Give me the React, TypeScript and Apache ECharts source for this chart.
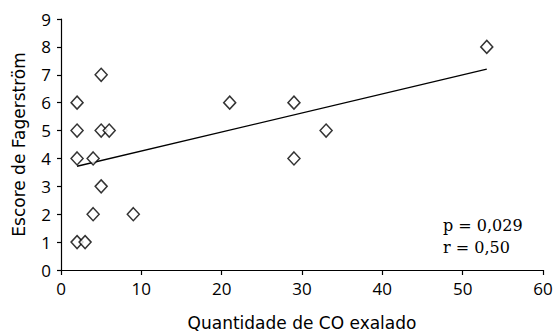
import React, { useEffect, useRef } from "react";
import * as echarts from "echarts";

const coExhaled = [2, 2, 2, 2, 3, 4, 4, 5, 5, 6, 5, 9, 21, 29, 29, 33, 53];
const fagerstrom = [6, 5, 4, 1, 1, 4, 2, 7, 5, 5, 3, 2, 6, 6, 4, 5, 8];
const trendX = [2, 53];
const trendY = [3.72, 7.2];
const xTicks = [0, 10, 20, 30, 40, 50, 60];
const yTicks = [0, 1, 2, 3, 4, 5, 6, 7, 8, 9];
const statsText = ["p = 0,029", "r = 0,50"];

export default function App() {
  const ref = useRef<HTMLDivElement>(null);
  useEffect(() => {
    if (!ref.current) return;
    document.body.style.margin = "0";
    const chart = echarts.init(ref.current, null, { renderer: "svg" });
    const tickFont = "'Open Sans', 'DejaVu Sans', sans-serif";
    const nameFont = "'DejaVu Sans', 'Open Sans', sans-serif";
    chart.setOption({
      animation: false,
      backgroundColor: "#ffffff",
      grid: {
        left: 61,
        right: 10,
        top: 19,
        bottom: 63,
        containLabel: false,
        outerBoundsMode: "none",
      },
      xAxis: {
        type: "value",
        min: xTicks[0],
        max: xTicks[xTicks.length - 1],
        interval: 10,
        name: "Quantidade de CO exalado",
        nameLocation: "middle",
        nameGap: 44,
        nameTextStyle: { color: "#000", fontSize: 17, fontFamily: nameFont },
        axisLine: { show: true, onZero: false, lineStyle: { color: "#000", width: 1.2 } },
        axisTick: { show: true, length: 5, lineStyle: { color: "#000", width: 1.2 } },
        axisLabel: { color: "#000", fontSize: 17, fontFamily: tickFont, margin: 10 },
        splitLine: { show: false },
      },
      yAxis: {
        type: "value",
        min: yTicks[0],
        max: yTicks[yTicks.length - 1],
        interval: 1,
        name: "Escore de Fagerström",
        nameLocation: "middle",
        nameGap: 34,
        nameTextStyle: { color: "#000", fontSize: 17, fontFamily: nameFont },
        axisLine: { show: true, onZero: false, lineStyle: { color: "#000", width: 1.2 } },
        axisTick: { show: true, length: 4, lineStyle: { color: "#000", width: 1.2 } },
        axisLabel: { color: "#000", fontSize: 17, fontFamily: tickFont, margin: 10 },
        splitLine: { show: false },
      },
      series: [
        {
          type: "line",
          data: trendX.map((x, i) => [x, trendY[i]]),
          showSymbol: false,
          symbol: "none",
          lineStyle: { color: "#000", width: 1.3 },
          z: 1,
        },
        {
          type: "scatter",
          data: coExhaled.map((x, i) => [x, fagerstrom[i]]),
          symbol: "diamond",
          symbolSize: [12, 13],
          itemStyle: { color: "#fff", borderColor: "#000", borderWidth: 1.5 },
          z: 2,
        },
      ],
      graphic: [
        {
          type: "text",
          left: 443,
          top: 214,
          style: {
            text: statsText.join("\n"),
            fill: "#000",
            font: "16px 'DejaVu Serif', 'Liberation Serif', serif",
            lineHeight: 22,
          },
        },
      ],
    });
    return () => chart.dispose();
  }, []);
  return <div ref={ref} style={{ width: 553, height: 333 }} />;
}
